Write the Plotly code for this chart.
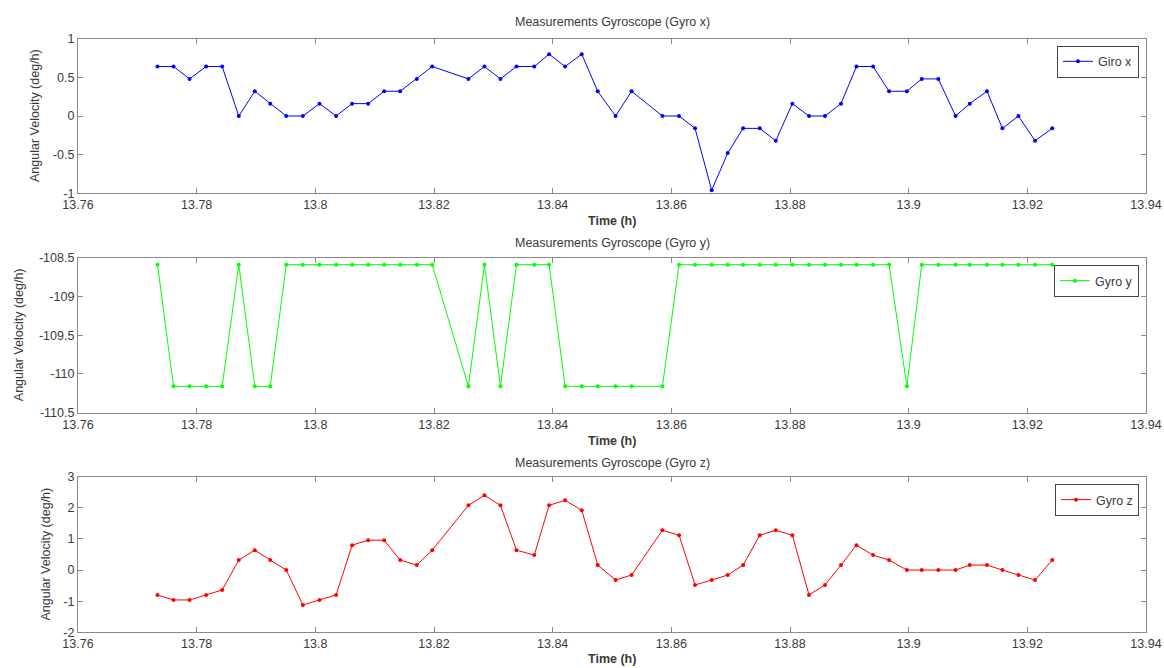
import plotly.graph_objects as go

# ---- data ----
time_h = [13.7734, 13.7761, 13.7788, 13.7816, 13.7843, 13.7871, 13.7898, 13.7924, 13.7951, 13.7979,
          13.8007, 13.8035, 13.8062, 13.8089, 13.8116, 13.8143, 13.8171, 13.8197, 13.8258, 13.8285,
          13.8312, 13.8339, 13.8369, 13.8394, 13.8421, 13.8449, 13.8476, 13.8506, 13.8533, 13.8585,
          13.8613, 13.8640, 13.8668, 13.8695, 13.8721, 13.8749, 13.8776, 13.8804, 13.8832, 13.8859,
          13.8886, 13.8912, 13.8940, 13.8967, 13.8997, 13.9022, 13.9050, 13.9079, 13.9103, 13.9132,
          13.9158, 13.9185, 13.9213, 13.9242]

gyro_x = [0.64, 0.64, 0.48, 0.64, 0.64, 0.0, 0.32, 0.16, 0.0, 0.0,
          0.16, 0.0, 0.16, 0.16, 0.32, 0.32, 0.48, 0.64, 0.48, 0.64,
          0.48, 0.64, 0.64, 0.80, 0.64, 0.80, 0.32, 0.0, 0.32, 0.0,
          0.0, -0.16, -0.96, -0.48, -0.16, -0.16, -0.32, 0.16, 0.0, 0.0,
          0.16, 0.64, 0.64, 0.32, 0.32, 0.48, 0.48, 0.0, 0.16, 0.32,
          -0.16, 0.0, -0.32, -0.16]

HI, LO = -108.59, -110.16
gyro_y = [HI, LO, LO, LO, LO, HI, LO, LO, HI, HI,
          HI, HI, HI, HI, HI, HI, HI, HI, LO, HI,
          LO, HI, HI, HI, LO, LO, LO, LO, LO, LO,
          HI, HI, HI, HI, HI, HI, HI, HI, HI, HI,
          HI, HI, HI, HI, LO, HI, HI, HI, HI, HI,
          HI, HI, HI, HI]

gyro_z = [-0.80, -0.96, -0.96, -0.80, -0.64, 0.32, 0.64, 0.32, 0.0, -1.12,
          -0.96, -0.80, 0.80, 0.96, 0.96, 0.32, 0.16, 0.64, 2.08, 2.40,
          2.08, 0.64, 0.48, 2.08, 2.24, 1.92, 0.16, -0.32, -0.16, 1.28,
          1.12, -0.48, -0.32, -0.16, 0.16, 1.12, 1.28, 1.12, -0.80, -0.48,
          0.16, 0.80, 0.48, 0.32, 0.0, 0.0, 0.0, 0.0, 0.16, 0.16,
          0.0, -0.16, -0.32, 0.32]

x_tickvals = [13.76, 13.78, 13.80, 13.82, 13.84, 13.86, 13.88, 13.90, 13.92, 13.94]
x_ticktext = ["13.76", "13.78", "13.8", "13.82", "13.84", "13.86", "13.88", "13.9", "13.92", "13.94"]
y1_tickvals = [-1, -0.5, 0, 0.5, 1]
y1_ticktext = ["-1", "-0.5", "0", "0.5", "1"]
y2_tickvals = [-110.5, -110, -109.5, -109, -108.5]
y2_ticktext = ["-110.5", "-110", "-109.5", "-109", "-108.5"]
y3_tickvals = [-2, -1, 0, 1, 2, 3]
y3_ticktext = ["-2", "-1", "0", "1", "2", "3"]

panel_titles = ["Measurements Gyroscope (Gyro x)", "Measurements Gyroscope (Gyro y)",
                "Measurements Gyroscope (Gyro z)"]
legend_names = ["Giro x", "Gyro y", "Gyro z"]
x_title = "Time (h)"
y_title = "Angular Velocity (deg/h)"

# ---- layout geometry (page body margin removed via post_script) ----
W, H = 1164, 668
FONT = "Liberation Sans, Arial, sans-serif"
FS = 12.5
AX_COLOR = "#8a8a8a"
TXT = "#3a3a3a"

def px_x(p):
    return p / W

def px_y(p):
    return 1 - p / H

x_dom = [px_x(78), px_x(1146)]
y_doms = [[px_y(193.3), px_y(38.7)], [px_y(412.7), px_y(257.7)], [px_y(632.3), px_y(476.7)]]

fig = go.Figure()
colors = ["#0000ff", "#00ff00", "#ff0000"]
series = [gyro_x, gyro_y, gyro_z]
legend_keys = ["legend", "legend2", "legend3"]
for i in range(3):
    fig.add_trace(go.Scatter(
        x=time_h, y=series[i], mode="lines+markers", name=legend_names[i],
        line=dict(color=colors[i], width=1), marker=dict(color=colors[i], size=4),
        xaxis="x" if i == 0 else f"x{i+1}", yaxis="y" if i == 0 else f"y{i+1}",
        legend=legend_keys[i], showlegend=True,
    ))

axis_common = dict(showline=True, linecolor=AX_COLOR, linewidth=1.2, mirror="allticks",
                   ticks="inside", ticklen=5, tickcolor=AX_COLOR, showgrid=False, zeroline=False,
                   automargin=False,
                   tickfont=dict(family=FONT, size=FS, color=TXT))

y_ranges = [[-1, 1], [-110.5, -108.5], [-2, 3]]
y_ticks = [(y1_tickvals, y1_ticktext), (y2_tickvals, y2_ticktext), (y3_tickvals, y3_ticktext)]
layout = {}
for i in range(3):
    xk = "xaxis" if i == 0 else f"xaxis{i+1}"
    yk = "yaxis" if i == 0 else f"yaxis{i+1}"
    ya = "y" if i == 0 else f"y{i+1}"
    xa = "x" if i == 0 else f"x{i+1}"
    layout[xk] = dict(axis_common, domain=x_dom, anchor=ya, range=[13.76, 13.94],
                      tickmode="array", tickvals=x_tickvals, ticktext=x_ticktext)
    layout[yk] = dict(axis_common, domain=y_doms[i], anchor=xa, range=y_ranges[i],
                      tickmode="array", tickvals=y_ticks[i][0], ticktext=y_ticks[i][1])

leg_tops = [45.7, 265, 484]
for i in range(3):
    layout[legend_keys[i]] = dict(x=px_x(1139), y=px_y(leg_tops[i]), xanchor="right", yanchor="top",
                                  bgcolor="white", bordercolor="#444444", borderwidth=1,
                                  font=dict(family=FONT, size=FS, color=TXT),
                                  itemwidth=30, tracegroupgap=0)

fig.update_layout(**layout)

annotations = []
title_ys = [22, 243, 463]
xtitle_ys = [221, 441, 659]
ytitle_xs = [35, 19, 45]
for i in range(3):
    annotations.append(dict(text=panel_titles[i], x=px_x(612), y=px_y(title_ys[i]), xref="paper",
                            yref="paper", showarrow=False, xanchor="center", yanchor="middle",
                            font=dict(family=FONT, size=FS, color=TXT)))
    annotations.append(dict(text=f"<b>{x_title}</b>", x=px_x(612), y=px_y(xtitle_ys[i]), xref="paper",
                            yref="paper", showarrow=False, xanchor="center", yanchor="middle",
                            font=dict(family=FONT, size=FS, color=TXT)))
    yc = (y_doms[i][0] + y_doms[i][1]) / 2
    annotations.append(dict(text=y_title, x=px_x(ytitle_xs[i]), y=yc, xref="paper", yref="paper",
                            showarrow=False, textangle=-90, xanchor="center", yanchor="middle",
                            font=dict(family=FONT, size=FS, color=TXT)))

fig.update_layout(width=W, height=H, margin=dict(l=0, r=0, t=0, b=0, autoexpand=False),
                  paper_bgcolor="white", plot_bgcolor="white", annotations=annotations)

fig.write_html("out.html",
               config={"displayModeBar": False},
               post_script="document.body.style.margin='0';"
                           "document.documentElement.style.overflow='hidden';"
                           "document.body.style.overflow='hidden';")
